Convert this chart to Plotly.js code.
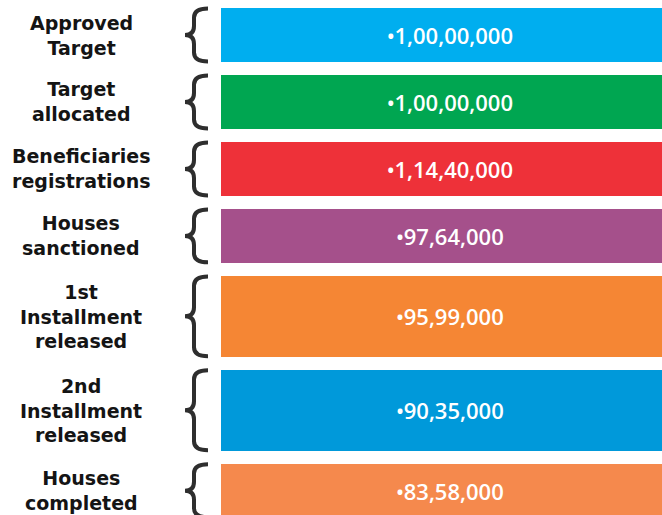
<!DOCTYPE html>
<html>
<head>
<meta charset="utf-8">
<script src="https://cdn.plot.ly/plotly-3.0.1.min.js"></script>
<style>html,body{margin:0;padding:0;background:#fff;}#chart{width:662px;height:515px;}</style>
</head>
<body>
<div id="chart"></div>
<script>
const labels = ["Approved<br>Target", "Target<br>allocated", "Beneficiaries<br>registrations", "Houses<br>sanctioned", "1st<br>Installment<br>released", "2nd<br>Installment<br>released", "Houses<br>completed"];
const values = [10000000, 10000000, 11440000, 9764000, 9599000, 9035000, 8358000];
const colors = ["#00AEEF", "#00A651", "#EE3139", "#A5508B", "#F58634", "#0099DA", "#F5894D"];

function inr(n) {
  const s = String(n);
  const last3 = s.slice(-3);
  let rest = s.slice(0, -3);
  rest = rest.replace(/\B(?=(\d{2})+(?!\d))/g, ",");
  return (rest ? rest + "," : "") + last3;
}

// row layout: bar height in "line" units, from the number of label lines
const GAP = 0.48;
const lines = labels.map(l => l.split("<br>").length);
const starts = [];
let acc = 0;
lines.forEach(n => { starts.push(acc); acc += n + GAP; });
const centers = starts.map((s, i) => s + lines[i] / 2);

const W = 662, H = 515, L = 221;
const UNIT = 27; // px per line unit
const yTop = -8 / UNIT;
const yBot = yTop + H / UNIT;
const px2paper = px => (px - L) / (W - L);

const trace = {
  type: "bar",
  orientation: "h",
  y: centers,
  x: values.map(() => 1),
  width: lines,
  marker: { color: colors, line: { width: 0 } },
  text: values.map(v => "<span style='font-size:20px'>•</span>" + inr(v)),
  textposition: "inside",
  insidetextanchor: "middle",
  constraintext: "none",
  textangle: 0,
  textfont: { family: "'Open Sans', sans-serif", size: 22, color: "#ffffff", weight: 600 },
  hoverinfo: "none"
};

const annotations = labels.map((l, i) => ({
  xref: "paper", yref: "y",
  x: px2paper(81), y: centers[i],
  xanchor: "center", yanchor: "middle",
  text: "<b>" + l + "</b>",
  align: "center",
  showarrow: false,
  borderpad: 0,
  font: { family: "'DejaVu Sans', sans-serif", size: 19, color: "#141414" }
}));

const xr = px2paper(208), xs = px2paper(194), xl = px2paper(185);
const r = 9 / UNIT;
const shapes = lines.map((n, i) => {
  const y0 = starts[i] + 0.02, y1 = starts[i] + n - 0.02, ym = (y0 + y1) / 2;
  const path = `M ${xr},${y0} Q ${xs},${y0} ${xs},${y0 + r} L ${xs},${ym - r} Q ${xs},${ym} ${xl},${ym} Q ${xs},${ym} ${xs},${ym + r} L ${xs},${y1 - r} Q ${xs},${y1} ${xr},${y1}`;
  return {
    type: "path", xref: "paper", yref: "y", path: path,
    line: { color: "#2e2e2e", width: 4 }, fillcolor: "rgba(0,0,0,0)"
  };
});

const layout = {
  width: W, height: H,
  margin: { l: L, r: 0, t: 0, b: 0, pad: 0 },
  paper_bgcolor: "#ffffff", plot_bgcolor: "#ffffff",
  showlegend: false,
  bargap: 0,
  xaxis: { range: [0, 0.963], visible: false, fixedrange: true },
  yaxis: { range: [yBot, yTop], visible: false, fixedrange: true },
  annotations: annotations,
  shapes: shapes
};

Plotly.newPlot("chart", [trace], layout, { displayModeBar: false, staticPlot: true });
</script>
</body>
</html>
